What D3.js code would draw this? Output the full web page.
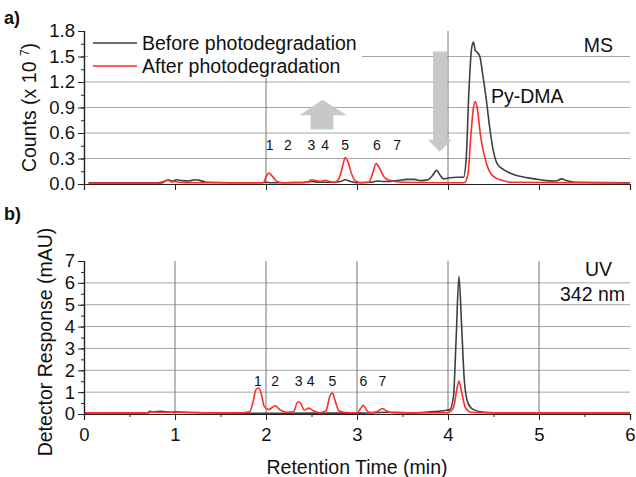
<html>
<head>
<script src="https://d3js.org/d3.v7.min.js"></script>
<style>
  body { margin: 0; background: #fff; }
  text { font-family: Arial, "Liberation Sans", sans-serif; }
</style>
</head>
<body>
<div id="chart"></div>
<script>
// MS chromatogram (counts x 10^7), [time min, value]
const msBefore = [[0.05,0.015],[0.8,0.015],[0.88,0.03],[0.92,0.045],[0.97,0.035],[1.02,0.05],[1.08,0.04],[1.15,0.035],[1.22,0.05],[1.28,0.04],[1.35,0.02],[1.6,0.015],[1.95,0.015],[2.0,0.02],[2.05,0.015],[2.4,0.015],[2.5,0.03],[2.58,0.02],[2.7,0.02],[2.82,0.03],[2.87,0.05],[2.93,0.03],[3.0,0.015],[3.15,0.02],[3.22,0.035],[3.3,0.03],[3.45,0.04],[3.55,0.055],[3.63,0.055],[3.7,0.04],[3.78,0.05],[3.83,0.1],[3.875,0.16],[3.91,0.11],[3.95,0.06],[4.0,0.07],[4.1,0.08],[4.17,0.08],[4.2,0.3],[4.23,1.1],[4.26,1.6],[4.28,1.67],[4.3,1.57],[4.32,1.55],[4.35,1.5],[4.38,1.3],[4.42,1.0],[4.46,0.65],[4.5,0.38],[4.54,0.24],[4.61,0.17],[4.7,0.12],[4.79,0.09],[4.95,0.06],[5.08,0.04],[5.18,0.035],[5.25,0.06],[5.3,0.04],[5.4,0.02],[6.0,0.015]];
const msAfter = [[0.05,0.01],[0.85,0.01],[0.9,0.04],[0.93,0.05],[0.96,0.025],[1.0,0.03],[1.05,0.02],[1.1,0.015],[1.97,0.015],[2.0,0.08],[2.03,0.13],[2.07,0.09],[2.12,0.03],[2.2,0.015],[2.3,0.02],[2.45,0.02],[2.5,0.05],[2.55,0.04],[2.6,0.03],[2.65,0.045],[2.7,0.03],[2.75,0.02],[2.8,0.06],[2.84,0.2],[2.87,0.31],[2.9,0.26],[2.94,0.12],[2.98,0.04],[3.05,0.015],[3.13,0.02],[3.17,0.12],[3.21,0.24],[3.25,0.18],[3.3,0.08],[3.37,0.04],[3.5,0.02],[4.0,0.015],[4.18,0.015],[4.22,0.12],[4.25,0.55],[4.28,0.9],[4.3,0.97],[4.32,0.9],[4.36,0.55],[4.42,0.25],[4.46,0.14],[4.5,0.09],[4.6,0.04],[4.7,0.02],[6.0,0.01]];

// UV chromatogram at 342 nm (mAU)
const uvBefore = [[0.0,0.05],[0.7,0.05],[0.72,0.12],[0.75,0.1],[0.85,0.12],[0.95,0.08],[1.0,0.1],[1.1,0.08],[1.5,0.05],[1.9,0.03],[2.5,0.04],[3.0,0.04],[3.4,0.08],[3.6,0.05],[3.8,0.1],[3.95,0.15],[4.02,0.2],[4.06,0.8],[4.09,3.5],[4.12,6.3],[4.15,4.0],[4.18,1.5],[4.22,0.5],[4.28,0.2],[4.4,0.08],[4.6,0.05],[6.0,0.05]];
const uvAfter = [[0.0,0.06],[0.7,0.05],[0.75,0.1],[0.8,0.08],[1.0,0.08],[1.5,0.05],[1.75,0.06],[1.82,0.1],[1.86,0.6],[1.89,1.12],[1.92,1.19],[1.95,0.9],[1.98,0.35],[2.03,0.2],[2.1,0.38],[2.15,0.2],[2.22,0.08],[2.3,0.1],[2.35,0.55],[2.38,0.5],[2.42,0.18],[2.47,0.27],[2.52,0.15],[2.6,0.06],[2.66,0.15],[2.7,0.8],[2.73,0.96],[2.76,0.6],[2.8,0.15],[2.87,0.07],[3.0,0.05],[3.04,0.25],[3.07,0.4],[3.1,0.2],[3.15,0.07],[3.22,0.1],[3.28,0.25],[3.32,0.15],[3.38,0.06],[3.6,0.05],[4.0,0.06],[4.06,0.3],[4.1,1.2],[4.12,1.51],[4.15,1.0],[4.19,0.3],[4.25,0.08],[4.5,0.05],[6.0,0.05]];

// peak number labels: [label, time]
const msPeakLabels = [["1",2.04],["2",2.24],["3",2.5],["4",2.65],["5",2.87],["6",3.22],["7",3.44]];
const uvPeakLabels = [["1",1.91],["2",2.1],["3",2.36],["4",2.49],["5",2.73],["6",3.07],["7",3.28]];

const msYTicks = [0, 0.3, 0.6, 0.9, 1.2, 1.5, 1.8];
const uvYTicks = [0, 1, 2, 3, 4, 5, 6, 7];
const xTicks = [0, 1, 2, 3, 4, 5, 6];

const width = 636, height = 477;
const grey = "#3f3f3f", red = "#ff2b2b", gridC = "#a6a6a6", arrowC = "#c8c8c8";

const svg = d3.create("svg").attr("width", width).attr("height", height);

const x = d3.scaleLinear().domain([0, 6]).range([84, 630]);
const yMs = d3.scaleLinear().domain([0, 1.8]).range([184, 31]);
const yUv = d3.scaleLinear().domain([0, 7]).range([414, 261]);

const line = (ys) => d3.line().x(d => x(d[0])).y(d => ys(d[1])).curve(d3.curveMonotoneX);

function styleAxis(g) {
  g.select(".domain").attr("stroke", "#222").attr("stroke-width", 1.2);
  g.selectAll(".tick line").attr("stroke", "#222");
  g.selectAll(".tick text").attr("font-size", "18.5px").attr("fill", "#111").attr("font-family", "Arial, 'Liberation Sans', sans-serif");
}

// ---- panel a) MS ----
const gA = svg.append("g");
gA.selectAll("line.hg").data(msYTicks.filter(v => v > 0 && v < 1.8)).join("line")
  .attr("x1", x(0)).attr("x2", x(6)).attr("y1", d => yMs(d)).attr("y2", d => yMs(d))
  .attr("stroke", gridC).attr("stroke-width", 1);
gA.selectAll("line.vg").data([2, 4]).join("line")
  .attr("x1", d => x(d)).attr("x2", d => x(d)).attr("y1", yMs(1.8)).attr("y2", yMs(0))
  .attr("stroke", "#777").attr("stroke-width", 1);

// legend box covers grid
gA.append("rect").attr("x", 88).attr("y", 30).attr("width", 274).attr("height", 48).attr("fill", "#fff");

// arrows (in data units)
const upArrow = [[2.49,0.64],[2.49,0.81],[2.37,0.81],[2.62,0.99],[2.89,0.81],[2.74,0.81],[2.74,0.64]];
const downArrow = [[3.835,1.56],[3.835,0.52],[3.78,0.52],[3.91,0.38],[4.04,0.52],[3.99,0.52],[3.99,1.56]];
[upArrow, downArrow].forEach(a => {
  gA.append("polygon").attr("points", a.map(p => [x(p[0]), yMs(p[1])].join(",")).join(" "))
    .attr("fill", arrowC);
});

gA.append("path").datum(msBefore).attr("d", line(yMs)).attr("fill", "none").attr("stroke", grey).attr("stroke-width", 1.6);
gA.append("path").datum(msAfter).attr("d", line(yMs)).attr("fill", "none").attr("stroke", red).attr("stroke-width", 1.6);

gA.append("g").attr("transform", `translate(84,0)`)
  .call(d3.axisLeft(yMs).tickValues(d3.range(0, 1.81, 0.15)).tickSize(3).tickFormat(""))
  .call(styleAxis);
gA.append("g").attr("transform", `translate(84,0)`)
  .call(d3.axisLeft(yMs).tickValues(msYTicks).tickSize(6).tickPadding(3).tickFormat(d3.format(".1f")))
  .call(styleAxis);
gA.append("g").attr("transform", `translate(0,${yMs(0)})`)
  .call(d3.axisBottom(x).tickValues(xTicks).tickSize(6).tickFormat(""))
  .call(styleAxis);

gA.selectAll("text.pk").data(msPeakLabels).join("text")
  .attr("x", d => x(d[1])).attr("y", 150).attr("text-anchor", "middle")
  .attr("font-size", "14px").attr("fill", "#111").text(d => d[0]);

// legend
const legend = [["Before photodegradation", grey], ["After photodegradation", red]];
legend.forEach((l, i) => {
  gA.append("line").attr("x1", 93).attr("x2", 137).attr("y1", 43 + i * 23).attr("y2", 43 + i * 23)
    .attr("stroke", l[1]).attr("stroke-width", 1.6);
  gA.append("text").attr("x", 142).attr("y", 50 + i * 23).attr("font-size", "19.5px").attr("fill", "#111").text(l[0]);
});
gA.append("text").attr("x", 613).attr("y", 52).attr("text-anchor", "end").attr("font-size", "19.5px").attr("fill", "#111").text("MS");
gA.append("text").attr("x", 491).attr("y", 103).attr("font-size", "19.5px").attr("fill", "#111").text("Py-DMA");

const cTitle = gA.append("text").attr("transform", `translate(36,${yMs(0.9)}) rotate(-90)`)
  .attr("text-anchor", "middle").attr("font-size", "19.5px").attr("fill", "#111");
cTitle.append("tspan").text("Counts (x 10 ");
cTitle.append("tspan").attr("dy", -7).attr("font-size", "12px").text("7");
cTitle.append("tspan").attr("dy", 7).text(")");

svg.append("text").attr("x", 4).attr("y", 24).attr("font-size", "18px").attr("font-weight", "bold").attr("fill", "#111").text("a)");
svg.append("text").attr("x", 4).attr("y", 220).attr("font-size", "18px").attr("font-weight", "bold").attr("fill", "#111").text("b)");

// ---- panel b) UV ----
const gB = svg.append("g");
gB.selectAll("line.hg").data(uvYTicks.filter(v => v > 0 && v < 7)).join("line")
  .attr("x1", x(0)).attr("x2", x(6)).attr("y1", d => yUv(d)).attr("y2", d => yUv(d))
  .attr("stroke", gridC).attr("stroke-width", 1);
gB.selectAll("line.vg").data([1, 2, 3, 4, 5]).join("line")
  .attr("x1", d => x(d)).attr("x2", d => x(d)).attr("y1", yUv(7)).attr("y2", yUv(0))
  .attr("stroke", "#777").attr("stroke-width", 1);

gB.append("path").datum(uvBefore).attr("d", line(yUv)).attr("fill", "none").attr("stroke", grey).attr("stroke-width", 1.6);
gB.append("path").datum(uvAfter).attr("d", line(yUv)).attr("fill", "none").attr("stroke", red).attr("stroke-width", 1.6);

gB.append("g").attr("transform", `translate(84,0)`)
  .call(d3.axisLeft(yUv).tickValues(d3.range(0, 7.01, 0.5)).tickSize(3).tickFormat(""))
  .call(styleAxis);
gB.append("g").attr("transform", `translate(84,0)`)
  .call(d3.axisLeft(yUv).tickValues(uvYTicks).tickSize(6).tickPadding(3).tickFormat(d3.format("d")))
  .call(styleAxis);
gB.append("g").attr("transform", `translate(0,${yUv(0)})`)
  .call(d3.axisBottom(x).tickValues(d3.range(0, 6.01, 0.5)).tickSize(3).tickFormat(""))
  .call(styleAxis);
gB.append("g").attr("transform", `translate(0,${yUv(0)})`)
  .call(d3.axisBottom(x).tickValues(xTicks).tickSize(6).tickPadding(8).tickFormat(d3.format("d")))
  .call(styleAxis);

gB.selectAll("text.pk").data(uvPeakLabels).join("text")
  .attr("x", d => x(d[1])).attr("y", 386).attr("text-anchor", "middle")
  .attr("font-size", "14px").attr("fill", "#111").text(d => d[0]);

gB.append("text").attr("x", 612).attr("y", 276).attr("text-anchor", "end").attr("font-size", "19.5px").attr("fill", "#111").text("UV");
gB.append("text").attr("x", 625).attr("y", 301).attr("text-anchor", "end").attr("font-size", "19.5px").attr("fill", "#111").text("342 nm");

gB.append("text").attr("transform", `translate(52,342) rotate(-90)`)
  .attr("text-anchor", "middle").attr("font-size", "19.5px").attr("fill", "#111").text("Detector Response (mAU)");
gB.append("text").attr("x", 357).attr("y", 474).attr("text-anchor", "middle")
  .attr("font-size", "19.5px").attr("fill", "#111").text("Retention Time (min)");

document.getElementById("chart").appendChild(svg.node());
</script>
</body>
</html>
